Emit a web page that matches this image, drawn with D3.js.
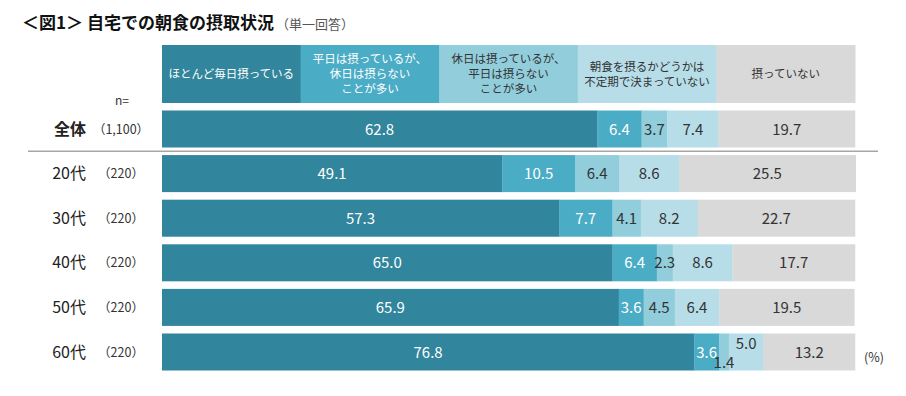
<!DOCTYPE html>
<html>
<head>
<meta charset="utf-8">
<script src="https://cdn.jsdelivr.net/npm/d3@7"></script>
<style>
  body { margin: 0; background: #fff; }
  svg text { font-family: "Noto Sans CJK JP", "Noto Sans", sans-serif; }
</style>
</head>
<body>
<svg id="chart" width="906" height="396"></svg>
<script>
// categories (rows) and sample sizes
var rows = ['全体', '20代', '30代', '40代', '50代', '60代'];
var sizes = ['（1,100）', '（220）', '（220）', '（220）', '（220）', '（220）'];

// series labels, as shown in the header boxes (lines)
var series = [
  ['ほとんど毎日摂っている'],
  ['平日は摂っているが、', '休日は摂らない', 'ことが多い'],
  ['休日は摂っているが、', '平日は摂らない', 'ことが多い'],
  ['朝食を摂るかどうかは', '不定期で決まっていない'],
  ['摂っていない']
];

// values per row (%)
var everyday  = [62.8, 49.1, 57.3, 65.0, 65.9, 76.8];
var weekdays  = [6.4, 10.5, 7.7, 6.4, 3.6, 3.6];
var holidays  = [3.7, 6.4, 4.1, 2.3, 4.5, 1.4];
var irregular = [7.4, 8.6, 8.2, 8.6, 6.4, 5.0];
var none      = [19.7, 25.5, 22.7, 17.7, 19.5, 13.2];

var colors = ['#31859c', '#4bacc6', '#92cddc', '#b7dee8', '#d9d9d9'];
var textColors = ['#ffffff', '#ffffff', '#333333', '#333333', '#333333'];

var svg = d3.select('#chart');

// title
var title = svg.append('text').attr('x', 22).attr('y', 29);
title.append('tspan').text('＜図1＞ 自宅での朝食の摂取状況')
  .attr('font-size', 17).attr('font-weight', 'bold').attr('fill', '#111');
title.append('tspan').text('（単一回答）')
  .attr('font-size', 13).attr('fill', '#555').attr('dx', 2);

var x = d3.scaleLinear().domain([0, 100]).range([162, 855]);
var y = d3.scaleBand().domain(rows).range([106.7, 374.3]).paddingInner(0.17).paddingOuter(0.085);

// header boxes
var hx = d3.scaleBand().domain(d3.range(series.length)).range([162, 855]);
var header = svg.append('g');
series.forEach(function(lines, i) {
  header.append('rect')
    .attr('x', hx(i)).attr('y', 45)
    .attr('width', hx.bandwidth() + 0.5).attr('height', 58)
    .attr('fill', colors[i]);
  var t = header.append('text')
    .attr('text-anchor', 'middle')
    .attr('font-size', 11.5)
    .attr('fill', textColors[i]);
  var lh = 15;
  var y0 = 74 - (lines.length - 1) * lh / 2 + 4;
  lines.forEach(function(l, k) {
    t.append('tspan').attr('x', hx(i) + hx.bandwidth() / 2).attr('y', y0 + k * lh).text(l);
  });
});

// stacked data
var segs = [];
rows.forEach(function(r, i) {
  var acc = 0;
  [everyday[i], weekdays[i], holidays[i], irregular[i], none[i]].forEach(function(v, si) {
    segs.push({row: r, series: si, value: v, x0: acc, x1: acc + v});
    acc += v;
  });
});

var bars = svg.append('g');
bars.selectAll('rect').data(segs).enter().append('rect')
  .attr('x', function(d) { return x(d.x0); })
  .attr('y', function(d) { return y(d.row); })
  .attr('width', function(d) { return x(d.x1) - x(d.x0) + 0.3; })
  .attr('height', y.bandwidth())
  .attr('fill', function(d) { return colors[d.series]; });

// small values in the 60代 row are moved up / down so they do not overlap
function shift(d) {
  if (d.row === '60代' && d.series === 2) return 10;
  if (d.row === '60代' && d.series === 3) return -9;
  return 0;
}

bars.selectAll('text').data(segs).enter().append('text')
  .attr('x', function(d) { return x((d.x0 + d.x1) / 2); })
  .attr('y', function(d) { return y(d.row) + y.bandwidth() / 2 + 5.5 + shift(d); })
  .attr('text-anchor', 'middle')
  .attr('font-size', 15)
  .attr('fill', function(d) { return textColors[d.series]; })
  .text(function(d) { return d.value.toFixed(1); });

// row labels
var labels = svg.append('g');
rows.forEach(function(r, i) {
  var cy = y(r) + y.bandwidth() / 2 + 5.5;
  labels.append('text')
    .attr('x', 86).attr('y', cy)
    .attr('text-anchor', 'end')
    .attr('font-size', 16)
    .attr('font-weight', i === 0 ? 'bold' : 'normal')
    .attr('fill', '#222')
    .text(r);
  labels.append('text')
    .attr('x', 121).attr('y', cy - 1)
    .attr('text-anchor', 'middle')
    .attr('font-size', 12.5)
    .attr('fill', '#333')
    .text(sizes[i]);
});

labels.append('text')
  .attr('x', 122).attr('y', 105)
  .attr('text-anchor', 'middle')
  .attr('font-size', 12).attr('fill', '#333')
  .text('n=');

// separator under 全体
var sepY = (y(rows[0]) + y.bandwidth() + y(rows[1])) / 2;
svg.append('line')
  .attr('x1', 28).attr('x2', 878)
  .attr('y1', sepY).attr('y2', sepY)
  .attr('stroke', '#a6a6a6').attr('stroke-width', 1.5);

svg.append('text')
  .attr('x', 874).attr('y', 362)
  .attr('text-anchor', 'middle')
  .attr('font-size', 12.5).attr('fill', '#333')
  .text('(%)');
</script>
</body>
</html>
